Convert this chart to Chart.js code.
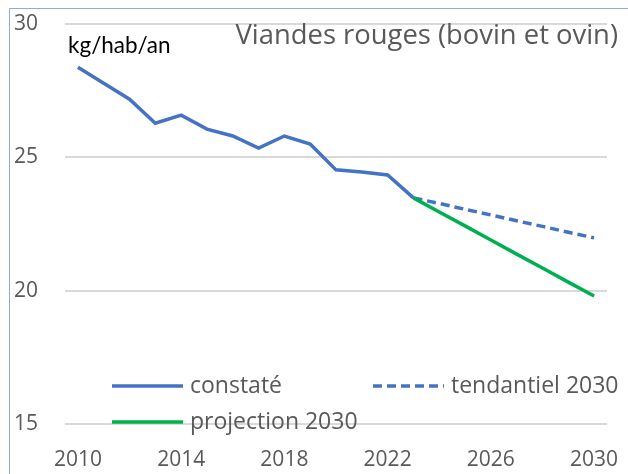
<!DOCTYPE html>
<html lang="fr">
<head>
  <meta charset="UTF-8" />
  <title>Viandes rouges</title>
  <script src="https://cdn.jsdelivr.net/npm/chart.js"></script>
  <style>
    html, body { margin: 0; padding: 0; background: #fff; }
    .wrap { position: relative; width: 628px; height: 474px; overflow: hidden; }
    .frame { position: absolute; left: 9px; top: 8px; right: -5px; bottom: -5px;
             border-left: 1px solid #8faadc; border-top: 1px solid #8faadc; }
    canvas { position: absolute; left: 0; top: 0; }
    .title { position: absolute; right: 10px; top: 16px; font-family: "Open Sans", sans-serif;
             font-size: 27.4px; line-height: 36px; color: #595959; white-space: nowrap; }
    .unit { position: absolute; left: 68px; top: 31px; font-family: "Lato", sans-serif;
            font-size: 22.5px; line-height: 28px; color: #000; white-space: nowrap; }
  </style>
</head>
<body>
  <div class="wrap">
    <div class="frame"></div>
    <canvas id="chart" width="628" height="474"></canvas>
    <div class="title">Viandes rouges (bovin et ovin)</div>
    <div class="unit">kg/hab/an</div>
  </div>

  <script>
    const years = [2010, 2011, 2012, 2013, 2014, 2015, 2016, 2017, 2018, 2019, 2020,
                   2021, 2022, 2023, 2024, 2025, 2026, 2027, 2028, 2029, 2030];
    const constate = [28.38, 27.78, 27.18, 26.28, 26.58, 26.06, 25.80, 25.35, 25.80, 25.50, 24.53,
                      24.45, 24.34, 23.48, null, null, null, null, null, null, null];
    const tendantiel = [null, null, null, null, null, null, null, null, null, null, null,
                        null, null, 23.48, 23.27, 23.05, 22.84, 22.62, 22.41, 22.19, 21.98];
    const projection = [null, null, null, null, null, null, null, null, null, null, null,
                        null, null, 23.48, 22.95, 22.43, 21.90, 21.37, 20.85, 20.32, 19.80];
    const xTicks = [2010, 2014, 2018, 2022, 2026, 2030];
    const yTicks = [15, 20, 25, 30];

    const BLUE = '#4472c4';
    const GREEN = '#00b050';
    const GREY = '#595959';

    function toPoints(values) {
      return years.map((yr, i) => ({ x: yr, y: values[i] }));
    }

    // legend drawn inside the plot, two rows
    const insideLegend = {
      id: 'insideLegend',
      afterDatasetsDraw(chart) {
        const ctx = chart.ctx;
        const ds = chart.data.datasets;
        const items = [
          { d: ds[0], x: 112, y: 386 },
          { d: ds[1], x: 373, y: 386 },
          { d: ds[2], x: 112, y: 422 }
        ];
        ctx.save();
        ctx.font = '23px "Open Sans", sans-serif';
        ctx.textBaseline = 'middle';
        items.forEach(it => {
          ctx.strokeStyle = it.d.borderColor;
          ctx.lineWidth = it.d.borderWidth;
          ctx.setLineDash(it.d.borderDash || []);
          ctx.beginPath();
          ctx.moveTo(it.x, it.y);
          ctx.lineTo(it.x + 71, it.y);
          ctx.stroke();
          ctx.setLineDash([]);
          ctx.fillStyle = GREY;
          ctx.fillText(it.d.label, it.x + 78, it.y);
        });
        ctx.restore();
      }
    };

    new Chart(document.getElementById('chart'), {
      type: 'line',
      data: {
        datasets: [
          { label: 'constaté', data: toPoints(constate), borderColor: BLUE, borderWidth: 3.5,
            order: 1 },
          { label: 'tendantiel 2030', data: toPoints(tendantiel), borderColor: BLUE, borderWidth: 3.5,
            borderDash: [9, 5], order: 2 },
          { label: 'projection 2030', data: toPoints(projection), borderColor: GREEN, borderWidth: 3.5,
            order: 0 }
        ]
      },
      options: {
        responsive: false,
        animation: false,
        layout: { padding: { left: 14, right: 21, top: 24, bottom: 0 } },
        elements: { point: { radius: 0 }, line: { tension: 0, fill: false } },
        plugins: { legend: { display: false }, tooltip: { enabled: false } },
        scales: {
          x: {
            type: 'linear',
            min: 2009.5,
            max: 2030.5,
            afterBuildTicks: s => { s.ticks = xTicks.map(v => ({ value: v })); },
            afterFit: s => { s.height = 50; s.paddingLeft = 0; s.paddingRight = 0; },
            grid: { display: false },
            border: { display: false },
            ticks: { color: GREY, padding: 15, maxRotation: 0,
                     font: { family: 'Open Sans', size: 21 }, callback: v => String(v) }
          },
          y: {
            min: 15,
            max: 30,
            afterBuildTicks: s => { s.ticks = yTicks.map(v => ({ value: v })); },
            afterFit: s => { s.width = 51; s.paddingTop = 0; s.paddingBottom = 0; },
            grid: { color: '#d9d9d9', lineWidth: 2, drawTicks: false },
            border: { display: false },
            ticks: { color: GREY, crossAlign: 'far', padding: 0,
                     font: { family: 'Open Sans', size: 21 } }
          }
        }
      },
      plugins: [insideLegend]
    });
  </script>
</body>
</html>
